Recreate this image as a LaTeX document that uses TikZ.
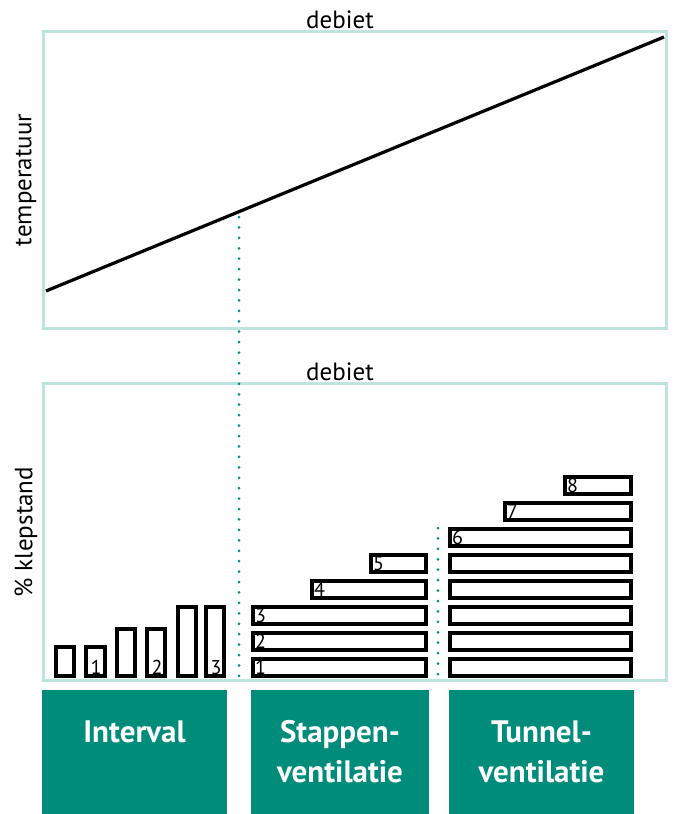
\documentclass[tikz,border=0pt]{standalone}
\usepackage{fontspec}
\setmainfont{PT Sans}
\usetikzlibrary{positioning}
\definecolor{paleteal}{RGB}{190,228,222}
\definecolor{darkteal}{RGB}{0,140,122}
\definecolor{dotteal}{RGB}{0,145,128}

\begin{document}
\begin{tikzpicture}[x=1pt, y=-1pt,
    frame/.style={line width=3pt, paleteal},
    bar/.style={line width=3.5pt, black},
    guide/.style={line width=3pt, dotteal, dash pattern=on 0pt off 10.43pt, line cap=round},
    axislabel/.style={font={\fontsize{25}{30}\selectfont}, inner sep=0pt},
    num/.style={font={\fontsize{20}{22}\selectfont}, inner sep=0pt},
    groupbox/.style={fill=darkteal, draw=none, anchor=north west, minimum width=185pt, minimum height=124pt},
    grouplabel/.style={text=white, font={\bfseries\fontsize{31}{40}\selectfont}, inner sep=0pt, anchor=base}]
                     \useasboundingbox (0,0) rectangle (673,814);

                     % temperatuur vs debiet
                     \draw[frame] (43,31) rectangle (666,328);
                     \node[axislabel, anchor=base] (debiettop) at (340,28) {debiet};
                     \node[axislabel, rotate=90, anchor=center] (temp) at (26,180) {temperatuur};
                     \coordinate (linestart) at (46,291);
                     \coordinate (lineend) at (664,37);
                     \draw[line width=3.2pt] (linestart) -- (lineend);

                     % klepstand vs debiet
                     \draw[frame] (43,383) rectangle (666,680);
                     \node[axislabel, anchor=base] (debietbottom) at (340,380) {debiet};
                     \node[axislabel, rotate=90, anchor=center] (klep) at (26,532) {\% klepstand};

                     % interval
                     \draw[bar] (56,647) rectangle (74,676);
                     \draw[bar] (86,647) rectangle (105,676);
                         \node[num, anchor=base] (i1) at (96,674) {1};
                     \draw[bar] (117,629) rectangle (135,676);
                     \draw[bar] (147,629) rectangle (165,676);
                         \node[num, anchor=base] (i2) at (157,674) {2};
                     \draw[bar] (178,607) rectangle (196,676);
                     \draw[bar] (206,607) rectangle (224,676);
                         \node[num, anchor=base] (i3) at (216,674) {3};

                     % stappenventilatie
                     \draw[bar] (253,659) rectangle (426,676);
                         \node[num, anchor=base west] (s1) at (255,674) {1};
                     \draw[bar] (253,633) rectangle (426,650);
                         \node[num, anchor=base west] (s2) at (255,648) {2};
                     \draw[bar] (253,607) rectangle (426,624);
                         \node[num, anchor=base west] (s3) at (255,622) {3};
                     \draw[bar] (312,581) rectangle (426,598);
                         \node[num, anchor=base west] (s4) at (314,596) {4};
                     \draw[bar] (371,555) rectangle (426,572);
                         \node[num, anchor=base west] (s5) at (373,570) {5};

                     % tunnelventilatie
                     \draw[bar] (450,659) rectangle (631,676);
                     \draw[bar] (450,633) rectangle (631,650);
                     \draw[bar] (450,607) rectangle (631,624);
                     \draw[bar] (450,581) rectangle (631,598);
                     \draw[bar] (450,555) rectangle (631,572);
                     \draw[bar] (450,529) rectangle (631,546);
                         \node[num, anchor=base west] (t6) at (452,544) {6};
                     \draw[bar] (505,503) rectangle (631,520);
                         \node[num, anchor=base west] (t7) at (507,518) {7};
                     \draw[bar] (565,477) rectangle (631,494);
                         \node[num, anchor=base west] (t8) at (567,492) {8};

                     % grenzen
                     \coordinate (grensA) at (239,217);
                     \coordinate (grensAend) at (239,679);
                     \coordinate (grensB) at (438,528);
                     \coordinate (grensBend) at (438,679);
                     \draw[guide] (grensA) -- (grensAend);
                     \draw[guide] (grensB) -- (grensBend);

                     % regimes
                     \node[groupbox] (interval) at (42,690) {};
                         \node[grouplabel] (intervaltxt) at (134.5,742) {Interval};
                     \node[groupbox, minimum width=178pt] (stappen) at (251,690) {};
                         \node[grouplabel] (stappentxt) at (340,742) {Stappen-};
                         \node[grouplabel] (stappentxtb) at (340,782) {ventilatie};
                     \node[groupbox] (tunnel) at (449,690) {};
                         \node[grouplabel] (tunneltxt) at (541.5,742) {Tunnel-};
                         \node[grouplabel] (tunneltxtb) at (541.5,782) {ventilatie};
                 \end{tikzpicture}
\end{document}
